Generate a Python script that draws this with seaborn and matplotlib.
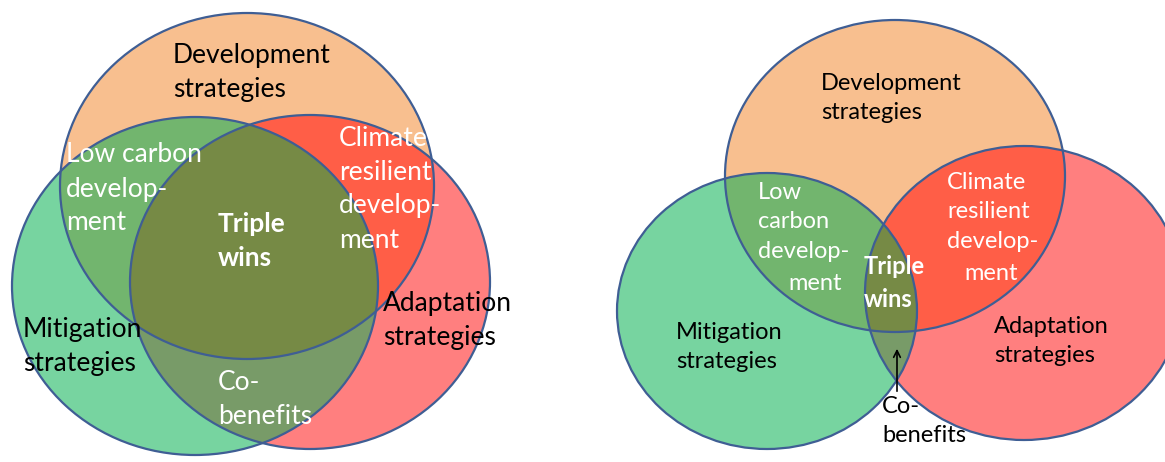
import numpy as np
import matplotlib
matplotlib.use("Agg")
import matplotlib.pyplot as plt
import seaborn as sns
from matplotlib.patches import Ellipse, Polygon

sns.set_theme(style="white")
plt.rcParams['font.family'] = ['Lato', 'DejaVu Sans']

# circles: development, mitigation, adaptation
sets = ['Development', 'Mitigation', 'Adaptation']
set_colors = ['#F8BF8F', '#77D4A0', '#FF7F7F']
# overlap colours
pair_colors = {(0, 1): '#72B56E', (0, 2): '#FF5E47', (1, 2): '#789B68'}
triple_color = '#768A45'

# left panel geometry (cx, cy, width, height) in pixels
left_cx = [247, 195, 310]
left_cy = [186, 286, 282]
left_w = [374, 366, 360]
left_h = [346, 338, 334]

# right panel geometry
right_cx = [895, 767, 1024]
right_cy = [176, 311, 293]
right_w = [340, 300, 318]
right_h = [312, 276, 294]

# text labels: (text, x, y, color, bold)
left_labels = [
    ("Development\nstrategies", 173, 72, 'black', False),
    ("Low carbon\ndevelop-\nment", 66, 189, 'white', False),
    ("Triple\nwins", 218, 241, 'white', True),
    ("Climate\nresilient\ndevelop-\nment", 339, 189, 'white', False),
    ("Adaptation\nstrategies", 383, 320, 'black', False),
    ("Mitigation\nstrategies", 23, 347, 'black', False),
    ("Co-\nbenefits", 218, 399, 'white', False),
]
right_labels = [
    ("Development\nstrategies", 821, 98, 'black', False),
    ("Low\ncarbon\ndevelop-", 758, 222, 'white', False),
    ("ment", 788, 284, 'white', False),
    ("Triple\nwins", 864, 283, 'white', True),
    ("Climate\nresilient\ndevelop-", 947, 212, 'white', False),
    ("ment", 964, 273, 'white', False),
    ("Adaptation\nstrategies", 994, 341, 'black', False),
    ("Mitigation\nstrategies", 676, 347, 'black', False),
    ("Co-\nbenefits", 882, 421, 'black', False),
]


def ell_points(cx, cy, w, h, n=1440):
    t = np.linspace(0, 2 * np.pi, n, endpoint=False)
    return np.column_stack([cx + w / 2 * np.cos(t), cy + h / 2 * np.sin(t)])


def inside(p, cx, cy, w, h):
    return ((p[:, 0] - cx) / (w / 2)) ** 2 + ((p[:, 1] - cy) / (h / 2)) ** 2 <= 1 + 1e-9


def overlap(idx, cx, cy, w, h):
    # intersection of convex shapes -> keep boundary points inside all, sort by angle
    pts = np.vstack([ell_points(cx[i], cy[i], w[i], h[i]) for i in idx])
    keep = np.ones(len(pts), bool)
    for i in idx:
        keep &= inside(pts, cx[i], cy[i], w[i], h[i])
    pts = pts[keep]
    c = pts.mean(axis=0)
    ang = np.arctan2(pts[:, 1] - c[1], pts[:, 0] - c[0])
    return pts[np.argsort(ang)]


def draw_venn(ax, cx, cy, w, h):
    for i in range(3):
        ax.add_patch(Ellipse((cx[i], cy[i]), w[i], h[i], facecolor=set_colors[i],
                             edgecolor='none', zorder=1))
    for (a, b), col in pair_colors.items():
        ax.add_patch(Polygon(overlap([a, b], cx, cy, w, h), closed=True,
                             facecolor=col, edgecolor='none', zorder=2))
    ax.add_patch(Polygon(overlap([0, 1, 2], cx, cy, w, h), closed=True,
                         facecolor=triple_color, edgecolor='none', zorder=3))
    for i in range(3):
        ax.add_patch(Ellipse((cx[i], cy[i]), w[i], h[i], facecolor='none',
                             edgecolor='#3F5E94', lw=1.6, zorder=4))


fig = plt.figure(figsize=(11.65, 4.62), dpi=100)
ax = fig.add_axes([0, 0, 1, 1])
ax.set_xlim(0, 1165)
ax.set_ylim(462, 0)
ax.axis('off')

draw_venn(ax, left_cx, left_cy, left_w, left_h)
draw_venn(ax, right_cx, right_cy, right_w, right_h)

for txt, x, y, col, bold in left_labels:
    ax.text(x, y, txt, color=col, fontsize=19, fontweight='bold' if bold else 'normal',
            ha='left', va='center', linespacing=1.45, zorder=5)
for txt, x, y, col, bold in right_labels:
    ax.text(x, y, txt, color=col, fontsize=17, fontweight='bold' if bold else 'normal',
            ha='left', va='center', linespacing=1.5, zorder=5)

ax.annotate('', xy=(897, 346), xytext=(897, 394),
            arrowprops=dict(arrowstyle='->', color='black', lw=1.2), zorder=6)

fig.savefig('out.png', dpi=100)
